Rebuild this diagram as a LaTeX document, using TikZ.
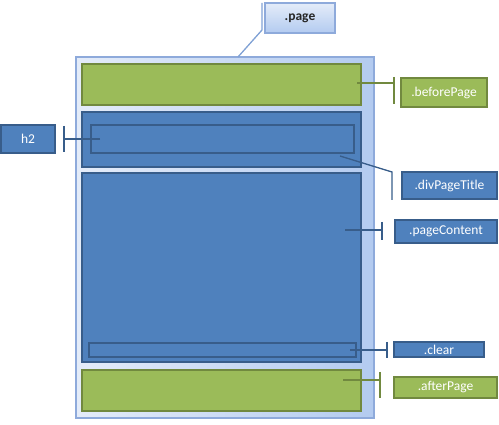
\documentclass[tikz,border=0pt]{standalone}
\usepackage{fontspec}
\setmainfont{Carlito}
\usetikzlibrary{shadows}
\definecolor{green-fill}{HTML}{9BBB59}
\definecolor{green-line}{HTML}{71893F}
\definecolor{blue-fill}{HTML}{4F81BD}
\definecolor{blue-line}{HTML}{385D8A}
\definecolor{page-line}{HTML}{8EAADB}
\definecolor{page-light}{HTML}{E4ECF9}
\definecolor{page-dark}{HTML}{B3CBF0}
\begin{document}
\begin{tikzpicture}[x=1pt, y=-1pt,
      every node/.style={font=\fontsize{13.5}{15}\selectfont, inner sep=0pt},
      greenbox/.style={draw=green-line, fill=green-fill, line width=1.6pt, text=white},
      bluebox/.style={draw=blue-line, fill=blue-fill, line width=1.6pt, text=white},
      innerbox/.style={draw=blue-line, line width=1.4pt},
      tag/.style={line width=1.3pt}]
    \useasboundingbox (0,0) rectangle (499,425);
    % page frame
    \node[draw=page-line, line width=1.2pt, left color=page-light, right color=page-dark,
          drop shadow={opacity=0.25, shadow xshift=1pt, shadow yshift=-1pt},
          minimum width=298pt, minimum height=361pt] (page) at (225,237.5) {};
    % blocks inside the page
    \node[greenbox, minimum width=279pt, minimum height=41pt] (before) at (221.5,84.5) {};
    \node[bluebox, minimum width=279pt, minimum height=55pt] (title) at (221.5,139.5) {};
    \node[innerbox, minimum width=263pt, minimum height=28pt] (h2box) at (222.5,139) {};
    \node[bluebox, minimum width=279pt, minimum height=189pt] (content) at (221.5,267.5) {};
    \node[innerbox, minimum width=267pt, minimum height=14pt] (clearbox) at (222.5,350) {};
    \node[greenbox, minimum width=279pt, minimum height=41pt] (after) at (221.5,390.5) {};
    % labels
    \node[draw=page-line, line width=1.2pt, top color=page-light, bottom color=page-dark,
          drop shadow={opacity=0.25, shadow xshift=1pt, shadow yshift=-1pt},
          minimum width=70pt, minimum height=30pt, text=black!85,
          font=\fontsize{13.5}{15}\selectfont\bfseries] (lpage) at (300,18) {.page};
    \node[greenbox, minimum width=86pt, minimum height=29pt] (lbefore) at (444,92.5) {.beforePage};
    \node[bluebox, minimum width=54pt, minimum height=28pt] (lh2) at (28,139) {h2};
    \node[bluebox, minimum width=95pt, minimum height=27pt] (ltitle) at (449.5,185.5) {.divPageTitle};
    \node[bluebox, minimum width=102pt, minimum height=23pt] (lcontent) at (446,231.5) {.pageContent};
    \node[bluebox, minimum width=90pt, minimum height=15pt] (lclear) at (439,349.5) {.clear};
    \node[greenbox, minimum width=103pt, minimum height=21pt] (lafter) at (445.5,387.5) {.afterPage};
    % callout lines
    \coordinate (pin) at (238,57);
    \coordinate (pbend) at (262,30);
    \coordinate (ptop) at (262,3);
    \draw[tag, draw=page-line!80!blue-fill] (pin) -- (pbend) -- (ptop);
    \coordinate (tin) at (340,156);
    \coordinate (tbend) at (392,172);
    \coordinate (tend) at (392,200);
    \draw[tag, draw=blue-line] (tin) -- (tbend) -- (tend);
    \foreach \src/\x/\y/\ya/\yb/\col in {before/357/83/77/104/green-line,
        h2box/100/139/126/152/blue-line, content/345/230/222/240/blue-line,
        clearbox/350/350/342/358/blue-line, after/343/380/372/398/green-line} {
      \coordinate (\src-in) at (\x,\y);
      \ifnum\x<200
        \coordinate (\src-t1) at (64,\ya);
        \coordinate (\src-t2) at (64,\yb);
      \else
        \coordinate (\src-t1) at (\x+37,\ya);
        \coordinate (\src-t2) at (\x+37,\yb);
      \fi
      \draw[tag, draw=\col] (\src-in) -- (\src-in -| \src-t1);
      \draw[tag, draw=\col] (\src-t1) -- (\src-t2);
    }
  \end{tikzpicture}
\end{document}
